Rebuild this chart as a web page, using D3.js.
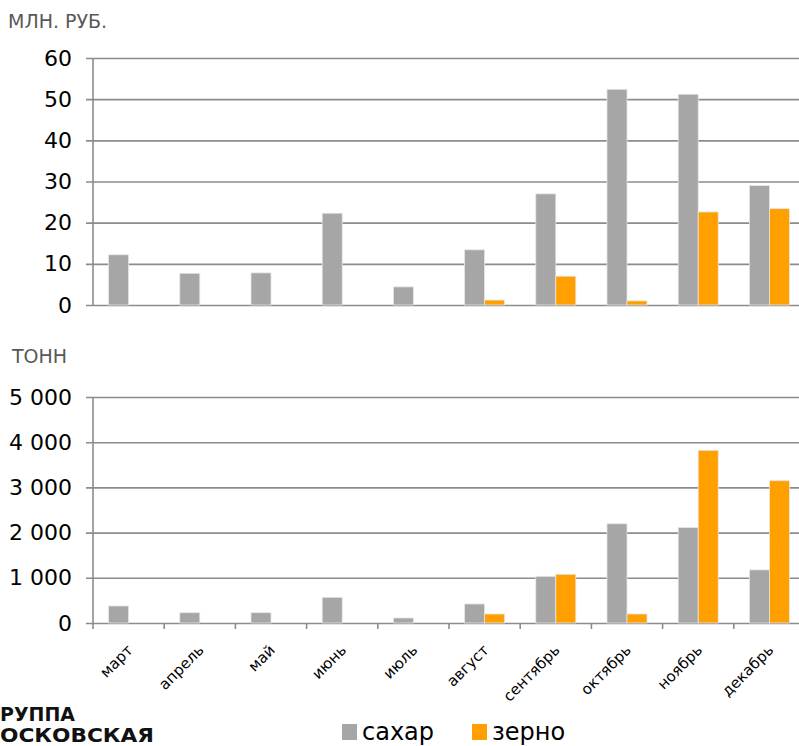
<!DOCTYPE html>
<html>
<head>
<meta charset="utf-8">
<script src="https://cdn.jsdelivr.net/npm/d3@7.9.0/dist/d3.min.js"></script>
<style>
  body { margin: 0; background: #fff; }
  svg { display: block; font-family: "DejaVu Sans", sans-serif; }
</style>
</head>
<body>
<svg width="799" height="746"></svg>
<script>
// data
const months = ['март', 'апрель', 'май', 'июнь', 'июль', 'август', 'сентябрь', 'октябрь', 'ноябрь', 'декабрь'];
const seriesNames = ['сахар', 'зерно'];
const sugarRub = [12.2, 7.7, 7.8, 22.3, 4.4, 13.4, 27.0, 52.4, 51.2, 29.0];
const grainRub = [0, 0, 0, 0, 0, 1.2, 7.0, 1.0, 22.6, 23.4];
const sugarTon = [377, 228, 228, 568, 111, 421, 1033, 2195, 2113, 1175];
const grainTon = [0, 0, 0, 0, 0, 200, 1078, 200, 3820, 3148];
const rubTicks = [0, 10, 20, 30, 40, 50, 60];
const tonTicks = [0, 1000, 2000, 3000, 4000, 5000];

const colors = d3.scaleOrdinal().domain(seriesNames).range(['#a6a6a6', '#ffa000']);
const svg = d3.select('svg');

// group of two bars in the middle of each month slot
let x0 = d3.scaleBand().domain(months).range([93, 805]).paddingInner(0.438).paddingOuter(0.219);
let x1 = d3.scaleBand().domain(seriesNames).range([0, x0.bandwidth()]);

const fmt = (v) => d3.format(',')(v).replace(/,/g, ' ');

function drawPanel(sugar, grain, ticks, top, bottom, unit, unitX, unitY, withTicks) {
  let rows = months.map((m, i) => ({ month: m, values: [sugar[i], grain[i]] }));
  let y = d3.scaleLinear().domain([0, d3.max(ticks)]).range([bottom, top]);
  let g = svg.append('g');

  // grid lines + labels
  let yAxis = d3.axisLeft(y).tickValues(ticks).tickFormat(fmt).tickSize(-(799 - 86)).tickPadding(14);
  g.append('g')
    .attr('transform', 'translate(86,0)')
    .call(yAxis)
    .call((s) => s.select('.domain').remove())
    .call((s) => s.selectAll('line').attr('stroke', '#8c8c8c').attr('stroke-width', 1.6))
    .call((s) => s.selectAll('text').attr('fill', '#000').attr('font-size', 22).attr('font-family', '"DejaVu Sans", sans-serif'));

  // vertical axis line
  g.append('line')
    .attr('x1', 93).attr('x2', 93)
    .attr('y1', top).attr('y2', bottom)
    .attr('stroke', '#8c8c8c').attr('stroke-width', 1.6);

  // bars
  g.append('g').selectAll('g')
    .data(rows)
    .join('g')
    .attr('transform', (d) => `translate(${x0(d.month)},0)`)
    .selectAll('rect')
    .data((d) => d.values.map((v, k) => ({ key: seriesNames[k], value: v })))
    .join('rect')
    .attr('x', (d) => x1(d.key))
    .attr('width', x1.bandwidth())
    .attr('y', (d) => y(d.value))
    .attr('height', (d) => y(0) - y(d.value))
    .attr('fill', (d) => colors(d.key))
    .attr('stroke', (d) => d.value > 0 ? '#e6e6e6' : 'none')
    .attr('stroke-width', 0.8);

  // category ticks under the baseline
  if (withTicks) {
    let bounds = months.map((m) => x0(m) - x0.step() * x0.paddingInner() / 2);
    bounds.push(x0.range()[1]);
    g.append('g').selectAll('line')
      .data(bounds)
      .join('line')
      .attr('x1', (d) => d).attr('x2', (d) => d)
      .attr('y1', bottom).attr('y2', bottom + 6)
      .attr('stroke', '#8c8c8c').attr('stroke-width', 1.6);
  }

  // unit caption
  svg.append('text')
    .attr('x', unitX)
    .attr('y', unitY)
    .attr('fill', '#595959')
    .attr('font-size', 19)
    .text(unit);

  return y;
}

drawPanel(sugarRub, grainRub, rubTicks, 58, 305, 'МЛН. РУБ.', 8, 28, false);
drawPanel(sugarTon, grainTon, tonTicks, 397, 623, 'ТОНН', 12, 363, true);

// month labels, rotated
svg.append('g').selectAll('text')
  .data(months)
  .join('text')
  .attr('transform', (d) => `translate(${x0(d) + x0.bandwidth() / 2 + 5},${651}) rotate(-45)`)
  .attr('text-anchor', 'end')
  .attr('font-size', 15)
  .attr('fill', '#000')
  .text((d) => d);

// legend
let legend = svg.append('g').attr('transform', 'translate(342,724)');
let legendX = [0, 130];
seriesNames.forEach((name, i) => {
  let item = legend.append('g').attr('transform', `translate(${legendX[i]},0)`);
  item.append('rect').attr('width', 15).attr('height', 16).attr('fill', colors(name));
  item.append('text')
    .attr('x', 20).attr('y', 16)
    .attr('font-size', 24)
    .attr('fill', '#000')
    .text(name);
});

// logo text at the left edge
svg.append('text').attr('x', 0).attr('y', 721)
  .attr('font-size', 19).attr('font-weight', 'bold').attr('fill', '#111')
  .attr('textLength', 75).attr('lengthAdjust', 'spacingAndGlyphs')
  .text('РУППА');
svg.append('text').attr('x', 0).attr('y', 742)
  .attr('font-size', 19).attr('font-weight', 'bold').attr('fill', '#111')
  .attr('textLength', 154).attr('lengthAdjust', 'spacingAndGlyphs')
  .text('ОСКОВСКАЯ');
</script>
</body>
</html>
